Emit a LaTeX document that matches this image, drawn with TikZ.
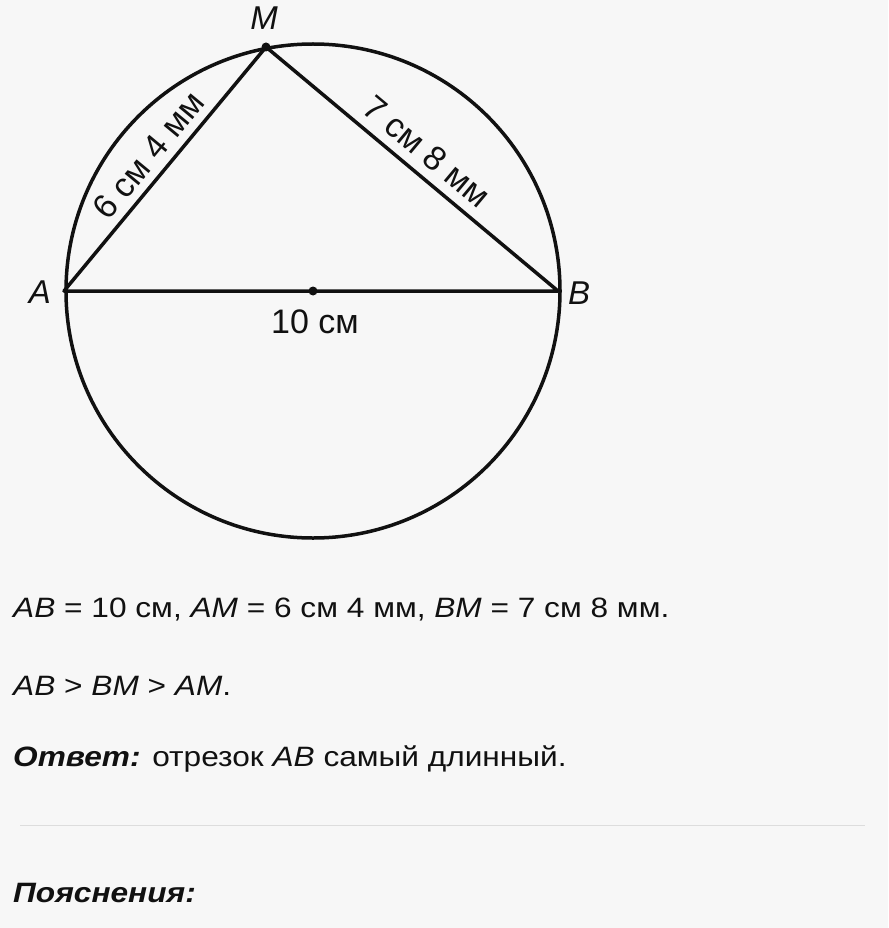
\documentclass[tikz,border=0pt]{standalone}
\usepackage{fontspec}
\setmainfont{Liberation Sans}
\newfontfamily\widefont[FakeStretch=1.13]{Liberation Sans}
\definecolor{paper}{HTML}{F7F7F7}
\definecolor{ink}{HTML}{111111}
\definecolor{rulegray}{HTML}{DDDDDD}
\tikzset{
  lbl/.style={font=\fontsize{34}{34}\selectfont, text=ink, inner sep=0pt},
  vert/.style={font=\fontsize{33}{33}\selectfont\itshape, text=ink, inner sep=0pt},
  txt/.style={font=\widefont\fontsize{28}{28}\selectfont, text=ink, anchor=base west, inner sep=0pt},
  dot/.style={circle, fill=ink, inner sep=0pt, minimum size=9pt}
}
\begin{document}
\begin{tikzpicture}[x=1pt,y=-1pt]
  \fill[paper] (0,0) rectangle (888,928);
  \useasboundingbox (0,0) rectangle (888,928);
  % circle and triangle
  \coordinate (O) at (313,291);
  \coordinate (A) at (64,291);
  \coordinate (B) at (558,291);
  \coordinate (M) at (266,47);
  \draw[ink, line width=3.5pt] (O) circle (247);
  \draw[ink, line width=3.5pt, line join=round] (A) -- (M) -- (B) -- cycle;
  \node[dot] (dM) at (M) {};
  \node[dot] (dO) at (O) {};
  \node[vert] (lA) at (40,292) {A};
  \node[vert] (lB) at (579,293) {B};
  \node[vert] (lM) at (264,18) {M};
  \node[lbl] (lAB) at (315,322) {10 см};
  \path (A) -- (M) node[lbl, midway, sloped, above=9pt] (lAM) {6 см 4 мм};
  \path (M) -- (B) node[lbl, midway, sloped, above=11pt] (lBM) {7 см 8 мм};
  % solution text
  \node[txt] (t1) at (13,617) {\textit{AB} = 10 см, \textit{AM} = 6 см 4 мм, \textit{BM} = 7 см 8 мм.};
  \node[txt] (t2) at (13,695) {\textit{AB} > \textit{BM} > \textit{AM}.};
  \node[txt] (t3) at (13,766) {\textbf{\textit{Ответ:}} отрезок \textit{AB} самый длинный.};
  \draw[rulegray, line width=1pt] (20,825) -- (865,825);
  \node[txt] (t4) at (13,902) {\textbf{\textit{Пояснения:}}};
\end{tikzpicture}
\end{document}
